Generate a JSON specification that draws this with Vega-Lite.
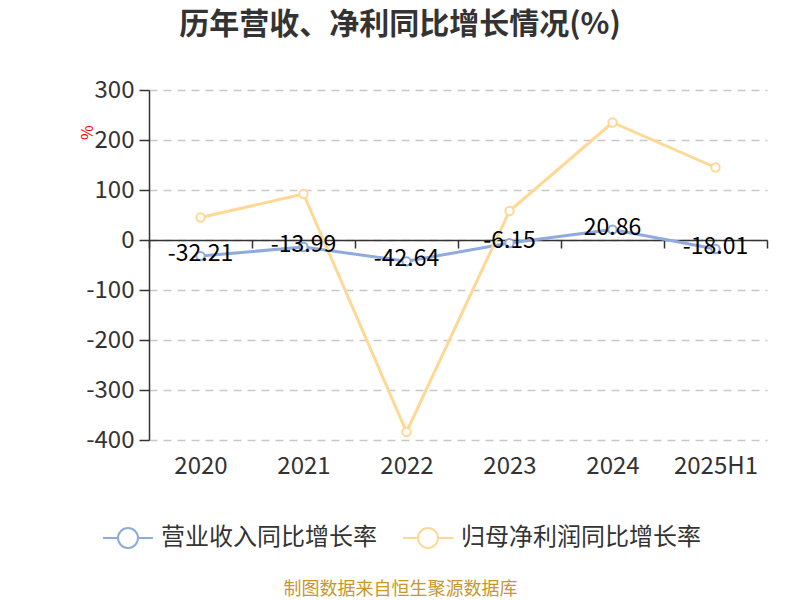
{
  "$schema": "https://vega.github.io/schema/vega-lite/v6.json",
  "width": 618,
  "height": 350,
  "autosize": {"type": "none"},
  "padding": {"left": 149, "top": 90, "right": 33, "bottom": 160},
  "background": "white",
  "config": {
    "font": "Noto Sans CJK SC",
    "view": {"stroke": null},
    "locale": {
      "number": {"decimal": ".", "thousands": ",", "grouping": [3], "currency": ["", ""], "minus": "-"}
    }
  },
  "title": {
    "text": "历年营收、净利同比增长情况(%)",
    "fontSize": 30,
    "fontWeight": "bold",
    "font": "Noto Sans CJK SC",
    "color": "#333333",
    "anchor": "middle",
    "frame": "group",
    "dx": -58,
    "offset": 38
  },
  "data": {
    "values": [
      {"year": "2020", "series": "营业收入同比增长率", "value": -32.21},
      {"year": "2021", "series": "营业收入同比增长率", "value": -13.99},
      {"year": "2022", "series": "营业收入同比增长率", "value": -42.64},
      {"year": "2023", "series": "营业收入同比增长率", "value": -6.15},
      {"year": "2024", "series": "营业收入同比增长率", "value": 20.86},
      {"year": "2025H1", "series": "营业收入同比增长率", "value": -18.01},
      {"year": "2020", "series": "归母净利润同比增长率", "value": 45},
      {"year": "2021", "series": "归母净利润同比增长率", "value": 92},
      {"year": "2022", "series": "归母净利润同比增长率", "value": -384},
      {"year": "2023", "series": "归母净利润同比增长率", "value": 58},
      {"year": "2024", "series": "归母净利润同比增长率", "value": 235},
      {"year": "2025H1", "series": "归母净利润同比增长率", "value": 145}
    ]
  },
  "encoding": {
    "x": {
      "field": "year",
      "type": "nominal",
      "sort": null,
      "bandPosition": 0.5,
      "scale": {"type": "band", "paddingInner": 0, "paddingOuter": 0},
      "axis": {
        "offset": -200,
        "labelAngle": 0,
        "tickBand": "extent",
        "tickSize": 8,
        "tickColor": "#333333",
        "domainColor": "#333333",
        "domainWidth": 1.5,
        "tickWidth": 1.5,
        "labelFontSize": 24,
        "labelColor": "#333333",
        "labelPadding": 206,
        "title": "制图数据来自恒生聚源数据库",
        "titleColor": "#c9962b",
        "titleFontSize": 18,
        "titleFontWeight": "normal",
        "titleX": 251,
        "titleY": 349,
        "titleBaseline": "middle",
        "titleAnchor": "middle"
      }
    },
    "y": {
      "field": "value",
      "type": "quantitative",
      "scale": {"domain": [-400, 300], "nice": false, "zero": false},
      "axis": {
        "values": [-400, -300, -200, -100, 0, 100, 200, 300],
        "tickSize": 10,
        "tickColor": "#333333",
        "domainColor": "#333333",
        "domainWidth": 1.5,
        "tickWidth": 1.5,
        "labelFontSize": 24,
        "labelColor": "#333333",
        "labelPadding": 5,
        "grid": true,
        "gridColor": "#c8c8c8",
        "gridDash": [8, 6],
        "gridWidth": 1.5,
        "title": "%",
        "titleColor": "#ff0000",
        "titleFontSize": 16,
        "titleFontWeight": "normal",
        "titleX": -62,
        "titleY": 42,
        "titleAngle": -90,
        "titleBaseline": "middle",
        "titleAlign": "center"
      }
    }
  },
  "layer": [
    {
      "mark": {
        "type": "line",
        "strokeWidth": 3,
        "point": {"filled": false, "fill": "white", "size": 70, "strokeWidth": 2}
      },
      "encoding": {
        "color": {
          "field": "series",
          "type": "nominal",
          "sort": ["营业收入同比增长率", "归母净利润同比增长率"],
          "scale": {
            "domain": ["营业收入同比增长率", "归母净利润同比增长率"],
            "range": ["#8faadc", "#ffd896"]
          },
          "legend": {
            "title": null,
            "orient": "none",
            "direction": "horizontal",
            "legendX": -47,
            "legendY": 422,
            "labelFontSize": 24,
            "labelColor": "#333333",
            "labelOffset": 7,
            "labelLimit": 0,
            "columnPadding": 22,
            "symbolType": "M-1,0L-0.4,0M0.4,0L1,0M0.4,0A0.4,0.4,0,1,1,-0.4,0A0.4,0.4,0,1,1,0.4,0Z",
            "symbolSize": 2500,
            "symbolStrokeWidth": 2,
            "symbolFillColor": "white"
          }
        }
      }
    },
    {
      "transform": [{"filter": "datum.series === '营业收入同比增长率'"}],
      "mark": {"type": "text", "fontSize": 23, "color": "#000000", "baseline": "middle", "dy": -2},
      "encoding": {
        "text": {"field": "value", "type": "quantitative", "format": ".2f"}
      }
    }
  ]
}
